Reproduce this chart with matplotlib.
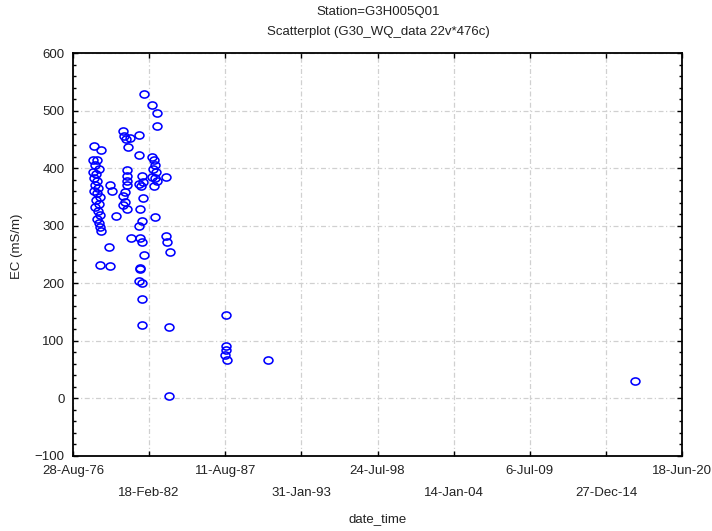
import numpy as np
import pandas as pd
import matplotlib
matplotlib.use("Agg")
import matplotlib.pyplot as plt
import matplotlib.dates as mdates
from matplotlib.path import Path
from matplotlib.transforms import Affine2D
from matplotlib.ticker import FixedLocator, MultipleLocator

plt.rcParams['font.family'] = ['Liberation Sans', 'DejaVu Sans']

# EC samples at station G3H005Q01
sample_dates = [
    '1978-02-25', '1978-08-29', '1978-01-30', '1978-05-16', '1978-03-24', '1978-07-07',
    '1978-01-30', '1978-04-19', '1978-02-25', '1978-05-16', '1978-03-24', '1978-06-11',
    '1978-02-25', '1978-05-16', '1978-08-03', '1978-04-19', '1978-07-07', '1978-03-24',
    '1978-06-11', '1978-08-03', '1978-05-16', '1978-07-07', '1978-08-03', '1978-08-29',
    '1978-08-03', '1979-04-24', '1979-03-28', '1979-04-24', '1979-06-16', '1979-09-29',
    '1980-04-01', '1980-04-27', '1980-06-19', '1980-10-03', '1980-08-11', '1980-07-16',
    '1980-07-16', '1980-07-16', '1980-07-16', '1980-05-24', '1980-04-01', '1980-05-24',
    '1980-04-01', '1980-07-16', '1980-10-29',
    '1981-05-28', '1981-05-28', '1981-08-16', '1981-09-11', '1981-05-28', '1981-07-20',
    '1981-09-11', '1981-06-24', '1981-08-16', '1981-05-28', '1981-06-24', '1981-08-16',
    '1981-10-07', '1981-06-24', '1981-06-24', '1981-05-28', '1981-08-16', '1981-08-16',
    '1981-08-16', '1981-10-07',
    '1982-05-07', '1982-09-16', '1982-09-16', '1982-05-07', '1982-06-28', '1982-07-25',
    '1982-06-02', '1982-08-20', '1982-05-07', '1982-07-25', '1982-09-16', '1982-06-28',
    '1982-07-25', '1983-05-11',
    '1983-05-11', '1983-06-07', '1983-08-25', '1983-07-29', '1983-07-29',
    '1987-09-11', '1987-09-11', '1987-09-11', '1987-08-16', '1987-10-08',
    '1990-08-30', '2017-01-15',
]
ec_values = [
    439, 432, 414, 414, 406, 399,
    394, 389, 382, 377, 371, 366,
    361, 356, 350, 345, 338, 333,
    326, 319, 312, 305, 298, 291,
    231, 229, 263, 370, 361, 317,
    465, 456, 451, 453, 436, 397,
    387, 378, 370, 359, 352, 341,
    336, 328, 278,
    458, 422, 387, 375, 373, 368,
    348, 328, 308, 300, 278, 271,
    249, 227, 224, 203, 200, 172,
    127, 528,
    509, 495, 474, 420, 414, 406,
    399, 394, 385, 382, 377, 368,
    315, 384,
    282, 271, 254, 123, 4,
    144, 90, 84, 75, 67,
    67, 30,
]

# axis ticks, every 2000 days starting 28-Aug-76
tick_dates = ['1976-08-28', '1982-02-18', '1987-08-11', '1993-01-31', '1998-07-24',
              '2004-01-14', '2009-07-06', '2014-12-27', '2020-06-18']
tick_labels = ['28-Aug-76', '18-Feb-82', '11-Aug-87', '31-Jan-93', '24-Jul-98',
               '14-Jan-04', '6-Jul-09', '27-Dec-14', '18-Jun-20']

x = mdates.date2num(pd.to_datetime(sample_dates))
xt = mdates.date2num(pd.to_datetime(tick_dates))

# slightly flattened open circle
ellipse = Path.unit_circle().transformed(Affine2D().scale(1.0, 0.8))

fig = plt.figure(figsize=(7.12, 5.31), dpi=100)
ax = fig.add_axes([0.1025, 0.142, 0.8555, 0.758])

ax.plot(x, ec_values, linestyle='none', marker=ellipse, markersize=6.4,
        markerfacecolor='none', markeredgecolor='#0000ff', markeredgewidth=1.15)

ax.set_xlim(xt[0], xt[-1])
ax.set_ylim(-100, 600)

# staggered date labels: every other one on a second row
ax.xaxis.set_major_locator(FixedLocator(xt))
ax.set_xticklabels([lab if i % 2 == 0 else '\n' + lab for i, lab in enumerate(tick_labels)])
for i, lab in enumerate(ax.get_xticklabels()):
    if i % 2:
        lab.set_linespacing(2.1)
ax.yaxis.set_major_locator(MultipleLocator(100))
ax.yaxis.set_minor_locator(MultipleLocator(20))

ax.tick_params(axis='both', which='both', direction='in', top=True, right=True,
               colors='black', labelcolor='#222222', labelsize=9.5, width=1.0)
ax.tick_params(axis='both', which='major', length=3.5, pad=6)
ax.tick_params(axis='y', which='minor', length=2.5)
ax.tick_params(axis='x', which='major', pad=7)

for s in ax.spines.values():
    s.set_linewidth(1.3)
    s.set_color('black')

ax.grid(True, which='major', color='#d0d0d0', linewidth=0.9, linestyle=(0, (4, 2, 1, 2)))
ax.set_axisbelow(True)

ax.set_xlabel('date_time', fontsize=9.5, color='#222222', labelpad=10)
ax.set_ylabel('EC (mS/m)', fontsize=9.5, color='#222222')
ax.yaxis.set_label_coords(-0.082, 0.52)

fig.text(0.531, 0.977, 'Station=G3H005Q01', ha='center', va='center', fontsize=9.5, color='#222222')
fig.text(0.531, 0.94, 'Scatterplot (G30_WQ_data 22v*476c)', ha='center', va='center',
         fontsize=9.5, color='#222222')

fig.savefig('out.png', dpi=100)
